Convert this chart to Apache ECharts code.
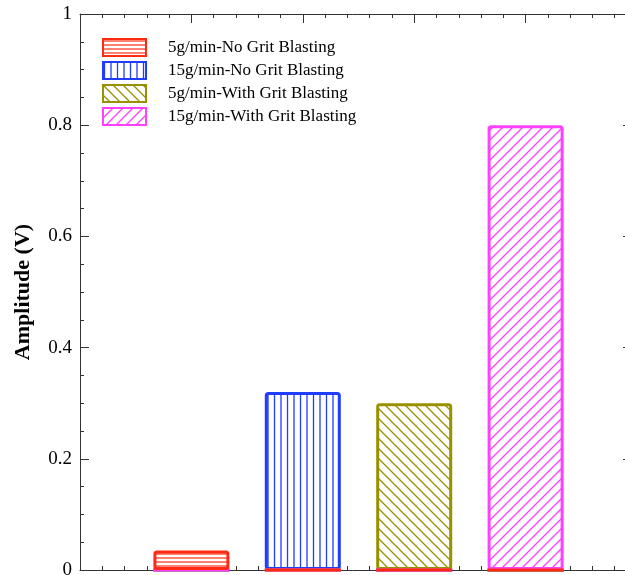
<!DOCTYPE html>
<html><head><meta charset="utf-8">
<script src="https://cdn.jsdelivr.net/npm/echarts@6/dist/echarts.min.js"></script>
<style>html,body{margin:0;padding:0;background:#fff}#c{width:625px;height:575px}</style>
</head><body><div id="c"></div>
<script>
// Data
const categories = ['5g/min-No Grit Blasting','15g/min-No Grit Blasting','5g/min-With Grit Blasting','15g/min-With Grit Blasting'];
const positions = [1, 2, 3, 4];
const red5NoGrit = [0.035, 0, 0, 0];
const blue15NoGrit = [0, 0.32, 0, 0];
const olive5Grit = [0, 0, 0.30, 0];
const magenta15Grit = [0, 0, 0, 0.80];
const yTicks = [0, 0.2, 0.4, 0.6, 0.8, 1];

function makePattern(color, kind) {
  const c = document.createElement('canvas');
  let w = 10, h = 10;
  if (kind === 'h') { w = 8; h = 4; }
  if (kind === 'v') { w = 13; h = 8; }
  c.width = w; c.height = h;
  const ctx = c.getContext('2d');
  ctx.fillStyle = '#fff'; ctx.fillRect(0, 0, w, h);
  ctx.strokeStyle = color; ctx.lineWidth = 1.3;
  ctx.beginPath();
  if (kind === 'h') { ctx.lineWidth = 1.2; ctx.moveTo(0, 2); ctx.lineTo(w, 2); }
  else if (kind === 'v') { ctx.moveTo(1.5, 0); ctx.lineTo(1.5, h); ctx.moveTo(8, 0); ctx.lineTo(8, h); }
  else if (kind === 'b') {
    ctx.moveTo(-1, -1); ctx.lineTo(w + 1, h + 1);
    ctx.moveTo(-1, h - 1); ctx.lineTo(1, h + 1);
    ctx.moveTo(w - 1, -1); ctx.lineTo(w + 1, 1);
  } else {
    ctx.moveTo(-1, h + 1); ctx.lineTo(w + 1, -1);
    ctx.moveTo(-1, 1); ctx.lineTo(1, -1);
    ctx.moveTo(w - 1, h + 1); ctx.lineTo(w + 1, h - 1);
  }
  ctx.stroke();
  return { image: c, repeat: 'repeat' };
}

const colors = ['#ff2a12', '#1f3cff', '#999000', '#ff40ff'];
const kinds = ['h', 'v', 'b', 's'];
const valueSets = [red5NoGrit, blue15NoGrit, olive5Grit, magenta15Grit];
const zs = [5, 2, 2, 2];

const font = 'Liberation Serif';
const series = categories.map((name, i) => ({
  name: name,
  type: 'bar',
  barWidth: 76,
  barGap: '-100%',
  z: zs[i],
  xAxisIndex: 0,
  yAxisIndex: 0,
  data: positions.map((p, j) => [p, valueSets[i][j]]),
  itemStyle: { color: makePattern(colors[i], kinds[i]), borderColor: colors[i], borderWidth: 3, borderRadius: 2 },
  emphasis: { disabled: true }
}));

const axisCol = '#333';
function xAxisOpt(pos) {
  return {
    type: 'value', min: 0, max: 5, interval: 1, position: pos, gridIndex: 0,
    axisLine: { show: true, onZero: false, lineStyle: { color: axisCol, width: 1 } },
    axisTick: { show: true, inside: true, length: 9, lineStyle: { color: axisCol } },
    minorTick: { show: true, splitNumber: 5, length: 4, lineStyle: { color: axisCol } },
    axisLabel: { show: false },
    splitLine: { show: false }
  };
}
function yBase(pos, grid) {
  return {
    type: 'value', min: yTicks[0], max: yTicks[yTicks.length - 1], interval: 0.2, position: pos, gridIndex: grid,
    axisLine: { show: true, onZero: false, lineStyle: { color: axisCol, width: 1 } },
    axisTick: { show: false },
    minorTick: { show: false, splitNumber: 4 },
    axisLabel: { show: false },
    splitLine: { show: false },
    minorSplitLine: { show: false }
  };
}

// left axis: line, labels and name
const yLeft = yBase('left', 0);
yLeft.name = 'Amplitude (V)';
yLeft.nameLocation = 'middle';
yLeft.nameGap = 46;
yLeft.nameTextStyle = { fontFamily: font, fontSize: 22, fontWeight: 'bold', color: '#000' };
yLeft.axisLabel = { show: true, margin: 8, fontFamily: font, fontSize: 19, color: '#000',
  formatter: v => String(Math.round(v * 10) / 10) };
// right frame axis with inward ticks
const yRight = yBase('right', 0);
yRight.axisTick = { show: true, inside: true, length: 14, lineStyle: { color: axisCol } };
yRight.minorTick = { show: true, splitNumber: 4, length: 4, lineStyle: { color: axisCol } };
// inward major ticks of the left frame: short split lines in a narrow grid
const yMajorTicks = yBase('left', 1);
yMajorTicks.axisLine = { show: false };
yMajorTicks.splitLine = { show: true, lineStyle: { color: axisCol, width: 1 } };
// inward minor ticks of the left frame
const yMinorTicks = yBase('left', 2);
yMinorTicks.axisLine = { show: false };
yMinorTicks.minorSplitLine = { show: true, lineStyle: { color: axisCol, width: 1 } };

function hiddenX(grid) {
  return { type: 'value', min: 0, max: 1, gridIndex: grid, show: false };
}

const chart = echarts.init(document.getElementById('c'), null, { renderer: 'canvas' });
chart.setOption({
  animation: false,
  backgroundColor: '#fff',
  grid: [
    { left: 80, top: 14, width: 557, height: 556, containLabel: false, outerBoundsMode: 'none' },
    { left: 80, top: 14, width: 9, height: 556, containLabel: false, outerBoundsMode: 'none' },
    { left: 80, top: 14, width: 4, height: 556, containLabel: false, outerBoundsMode: 'none' }
  ],
  legend: {
    orient: 'vertical', left: 102, top: 38, padding: 0,
    itemWidth: 43, itemHeight: 17, itemGap: 4,
    icon: 'rect',
    data: categories,
    textStyle: { fontFamily: font, fontSize: 17, lineHeight: 17, color: '#000', padding: [0, 0, 0, 17] }
  },
  xAxis: [xAxisOpt('bottom'), xAxisOpt('top'), hiddenX(1), hiddenX(2)],
  yAxis: [yLeft, yRight, yMajorTicks, yMinorTicks],
  series: series
});
</script></body></html>
